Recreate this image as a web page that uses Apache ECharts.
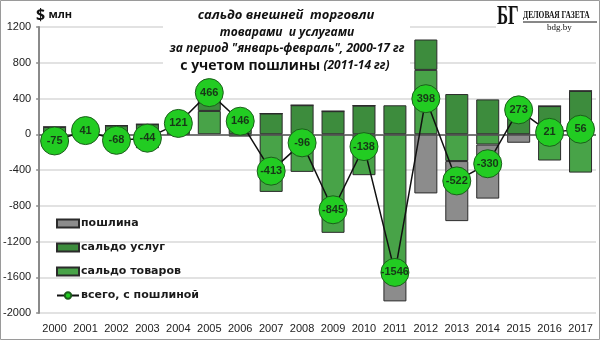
<!DOCTYPE html>
<html>
<head>
<meta charset="utf-8">
<script src="https://cdn.jsdelivr.net/npm/echarts@6/dist/echarts.min.js"></script>
<style>
html,body{margin:0;padding:0;background:#fff;}
#chart{width:600px;height:340px;}
</style>
</head>
<body>
<div id="chart"></div>
<script>
const years = ['2000','2001','2002','2003','2004','2005','2006','2007','2008','2009','2010','2011','2012','2013','2014','2015','2016','2017'];
const goods = [-157,-39,-165,-156,-5,261,-26,-645,-421,-1103,-458,-1588,720,-300,-115,0,-294,-429];
const services = [82,80,97,112,126,205,172,232,325,258,320,324,340,450,390,368,315,485];
const duty = [0,0,0,0,0,0,0,0,0,0,0,-282,-662,-672,-605,-95,0,0];
const total = [-75,41,-68,-44,121,466,146,-413,-96,-845,-138,-1546,398,-522,-330,273,21,56];
const yTicks = {min:-2000, max:1200, interval:400};

const chart = echarts.init(document.getElementById('chart'), null, {renderer:'canvas'});
const barBorder = {borderColor:'#2b2b2b', borderWidth:1};
chart.setOption({
  animation:false,
  backgroundColor:'#fff',
  grid:{left:39, right:4, top:27, bottom:27},
  legend:{
    orient:'vertical', left:51, top:213, itemWidth:22, itemHeight:8, itemGap:13,
    data:[{name:'пошлина', icon:'rect'},{name:'сальдо услуг', icon:'rect'},{name:'сальдо товаров', icon:'rect'},{name:'всего, с пошлиной'}],
    textStyle:{fontFamily:'DejaVu Sans', fontWeight:'bold', fontSize:11, color:'#1a1a1a', padding:[0,0,0,-3]}
  },
  xAxis:{
    type:'category', data:years,
    axisLine:{show:false}, axisTick:{show:false},
    axisLabel:{interval:0, fontFamily:'Liberation Sans', fontSize:11, color:'#222', margin:10}
  },
  yAxis:{
    type:'value', min:yTicks.min, max:yTicks.max, interval:yTicks.interval,
    axisLine:{show:true, lineStyle:{color:'#8a8a8a', width:2}},
    axisTick:{show:true, length:3, lineStyle:{color:'#8a8a8a', width:1.5}},
    splitLine:{lineStyle:{color:'#d9d9d9', width:1.5}},
    axisLabel:{fontFamily:'Liberation Sans', fontSize:11, color:'#222', margin:8, formatter:function(v){return String(v);}}
  },
  series:[
    {name:'сальдо товаров', type:'bar', stack:'s', data:goods, barWidth:23,
     itemStyle:Object.assign({color:'#48a348'}, barBorder)},
    {name:'сальдо услуг', type:'bar', stack:'s', data:services, barWidth:23,
     itemStyle:Object.assign({color:'#3d8c3d'}, barBorder),
     markLine:{silent:true, symbol:'none', label:{show:false},
       lineStyle:{color:'#555', width:1.5, type:'solid'}, data:[{yAxis:0}]}},
    {name:'пошлина', type:'bar', stack:'s', data:duty, barWidth:23,
     itemStyle:Object.assign({color:'#8c8c8c'}, barBorder)},
    {name:'всего, с пошлиной', type:'line', data:total, z:10,
     symbol:'circle', symbolSize:28, showSymbol:true, showAllSymbol:true,
     lineStyle:{color:'#111', width:1.5},
     itemStyle:{color:'#22cc22', borderColor:'#1c5e1c', borderWidth:1},
     label:{show:true, position:'inside', fontFamily:'Liberation Sans', fontWeight:'bold', fontSize:11, color:'#173817'}}
  ],
  graphic:[
    {type:'rect', shape:{x:0.5,y:0.5,width:599,height:339}, style:{fill:'none', stroke:'#9a9a9a', lineWidth:1}, z:100},
    {type:'rect', shape:{x:163,y:3,width:247,height:73}, style:{fill:'#fff'}, z:100},
    {type:'rect', shape:{x:496,y:2,width:102,height:33}, style:{fill:'#fff'}, z:100},
    {type:'text', x:36, y:15, z:101, style:{
      text:'{a|$} {b|млн}', verticalAlign:'middle',
      rich:{a:{fontFamily:'Open Sans', fontWeight:'bold', fontSize:16, fill:'#111'},
            b:{fontFamily:'Open Sans', fontWeight:'bold', fontSize:11, fill:'#111'}}}},
    {type:'text', x:286, y:15, z:101, style:{text:'сальдо внешней  торговли', align:'center', verticalAlign:'middle',
      font:'italic bold 13px "Open Sans"', fill:'#111'}},
    {type:'text', x:287, y:33, z:101, style:{text:'товарами  и услугами', align:'center', verticalAlign:'middle',
      font:'italic bold 12px "Open Sans"', fill:'#111'}},
    {type:'text', x:287, y:49, z:101, style:{text:'за период "январь-февраль", 2000-17 гг', align:'center', verticalAlign:'middle',
      font:'italic bold 12px "Open Sans"', fill:'#111'}},
    {type:'text', x:285, y:66, z:101, style:{
      text:'{a|с учетом пошлины} {b|(2011-14 гг)}', align:'center', verticalAlign:'middle',
      rich:{a:{fontFamily:'Open Sans', fontWeight:'bold', fontSize:14, fill:'#111'},
            b:{fontFamily:'Open Sans', fontWeight:'bold', fontStyle:'italic', fontSize:12, fill:'#111'}}}},
    {type:'text', x:497, y:3, z:101, scaleX:0.6, style:{text:'БГ', font:'bold 28px "Liberation Serif"', fill:'#111'}},
    {type:'text', x:523, y:10, z:101, scaleX:0.68, style:{text:'ДЕЛОВАЯ ГАЗЕТА', font:'bold 11px "Liberation Serif"', fill:'#111'}},
    {type:'line', shape:{x1:523,y1:22,x2:597,y2:22}, style:{stroke:'#111', lineWidth:1}, z:101},
    {type:'text', x:547, y:23, z:101, style:{text:'bdg.by', font:'9px "Liberation Serif"', fill:'#111'}}
  ]
});
</script>
</body>
</html>
